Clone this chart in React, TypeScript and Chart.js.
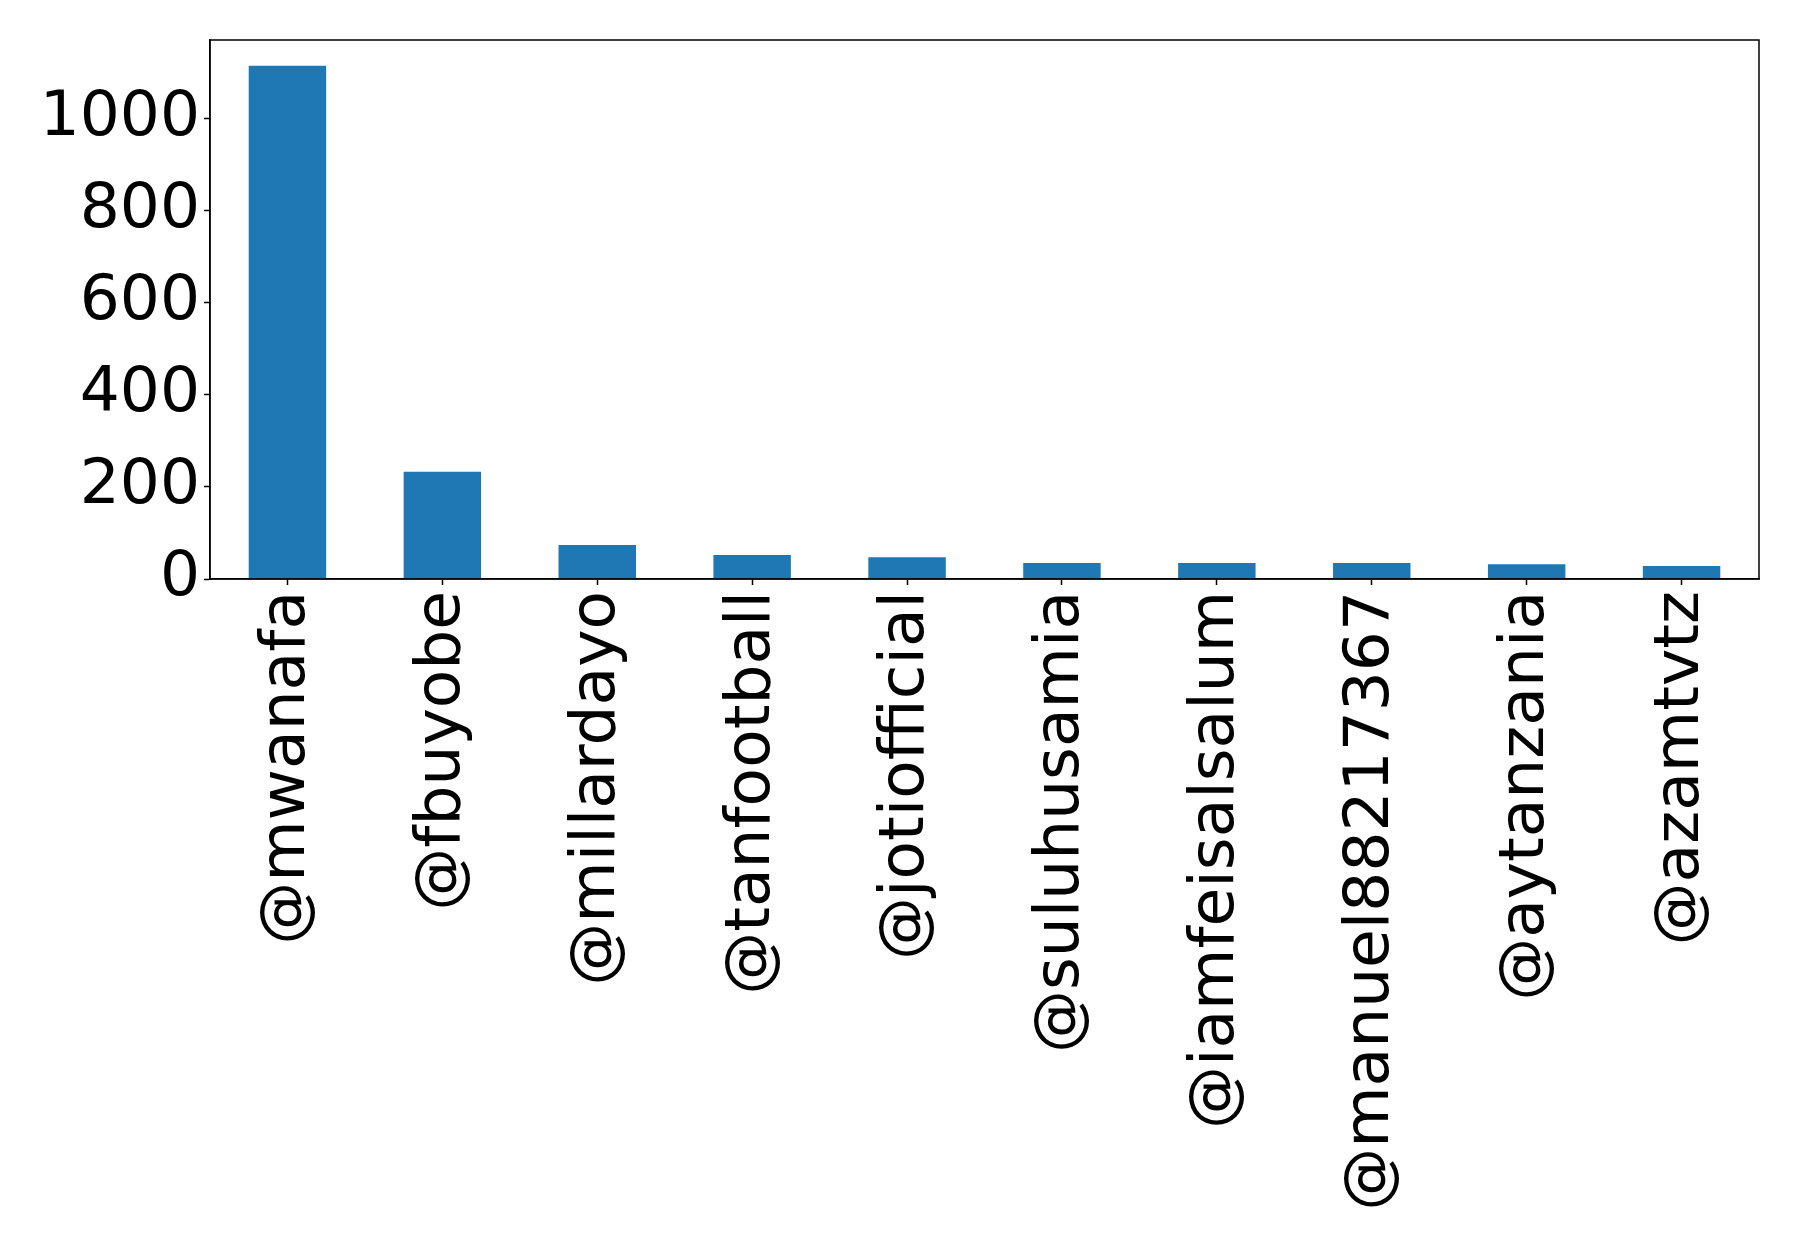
import React, { useEffect, useRef } from "react";
import { Chart, registerables } from "chart.js";

Chart.register(...registerables);

const categories: string[] = [
  "@mwanafa",
  "@fbuyobe",
  "@millardayo",
  "@tanfootball",
  "@jotiofficial",
  "@suluhusamia",
  "@iamfeisalsalum",
  "@manuel88217367",
  "@aytanzania",
  "@azamtvtz",
];
const counts: number[] = [1114, 233, 74, 52, 47, 35, 35, 35, 32, 28];
const yTicks: number[] = [0, 200, 400, 600, 800, 1000];
const yMax = 1170;

const framePlugin = {
  id: "frame",
  afterDraw(chart: any) {
    const { ctx, chartArea } = chart;
    ctx.save();
    ctx.strokeStyle = "#000";
    ctx.lineWidth = 1.5;
    ctx.strokeRect(chartArea.left, chartArea.top, chartArea.right - chartArea.left, chartArea.bottom - chartArea.top);
    ctx.restore();
  },
};

export default function App() {
  const ref = useRef<HTMLCanvasElement | null>(null);
  useEffect(() => {
    if (!ref.current) return;
    const font = { family: "'DejaVu Sans', sans-serif", size: 63 };
    const chart = new Chart(ref.current, {
      type: "bar",
      data: {
        labels: categories,
        datasets: [
          {
            data: counts,
            backgroundColor: "#1f77b4",
            categoryPercentage: 1,
            barPercentage: 0.5,
          },
        ],
      },
      options: {
        animation: false,
        responsive: false,
        layout: { padding: { top: 40, right: 39, left: 0, bottom: 0 } },
        plugins: { legend: { display: false }, tooltip: { enabled: false } },
        scales: {
          x: {
            offset: true,
            grid: { offset: false, drawOnChartArea: false, tickLength: 6, tickColor: "#000", tickWidth: 1.5 },
            border: { color: "#000", width: 1.5 },
            ticks: {
              autoSkip: false,
              minRotation: 90,
              maxRotation: 90,
              color: "#000",
              font,
              padding: 6,
            },
            afterFit(scale: any) {
              scale.height = 664;
              scale.paddingLeft = 0;
              scale.paddingRight = 0;
            },
          },
          y: {
            min: 0,
            max: yMax,
            grid: { drawOnChartArea: false, tickLength: 6, tickColor: "#000", tickWidth: 1.5 },
            border: { color: "#000", width: 1.5 },
            ticks: {
              autoSkip: false,
              color: "#000",
              font,
              padding: 4,
              callback: (v: any) => String(v),
            },
            afterBuildTicks(scale: any) {
              scale.ticks = yTicks.map((v) => ({ value: v }));
            },
            afterFit(scale: any) {
              scale.width = 210;
              scale.paddingTop = 0;
              scale.paddingBottom = 0;
            },
          },
        },
      },
      plugins: [framePlugin],
    });
    return () => chart.destroy();
  }, []);
  return (
    <canvas
      ref={ref}
      width={1798}
      height={1243}
      style={{ position: "fixed", left: 0, top: 0, width: 1798, height: 1243, background: "#fff" }}
    />
  );
}
